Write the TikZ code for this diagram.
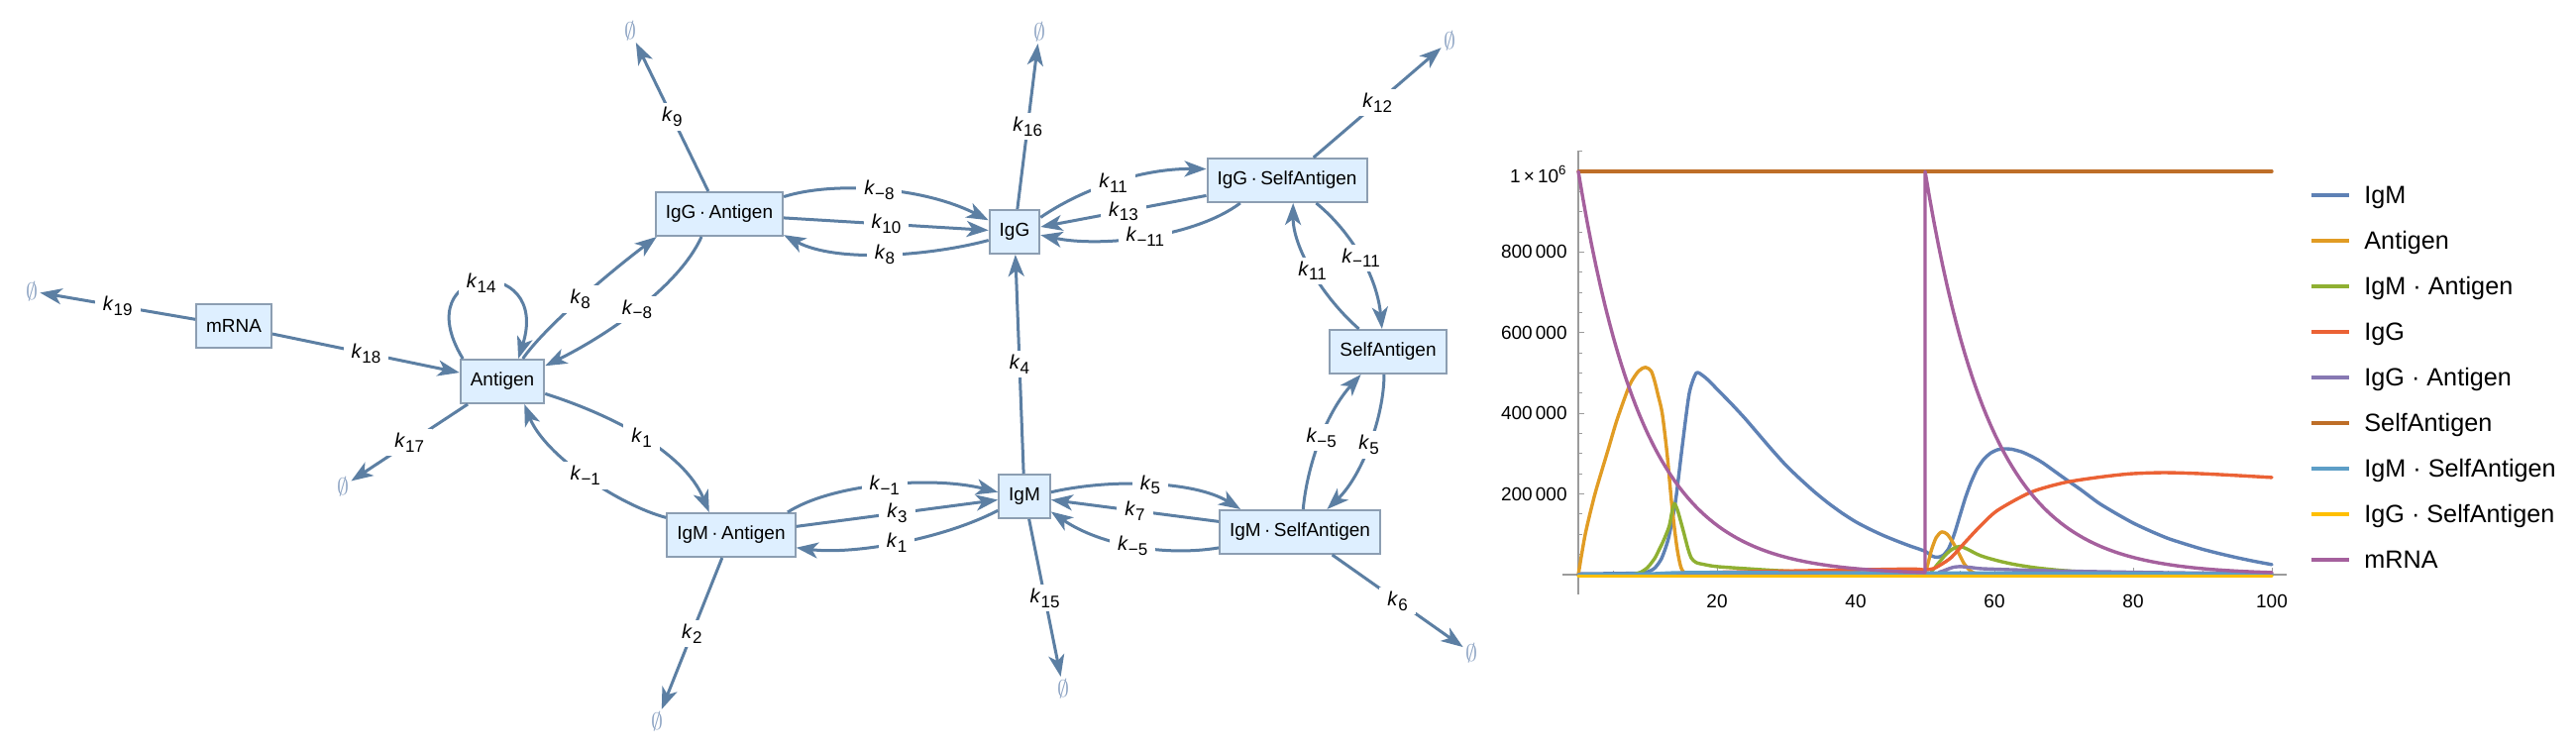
\documentclass[tikz,border=0pt]{standalone}
\usepackage{fontspec}
\setmainfont{Liberation Sans}
\usetikzlibrary{arrows.meta}
\definecolor{edgec}{RGB}{92,127,163}
\definecolor{nodefill}{RGB}{222,239,255}
\definecolor{nodedraw}{RGB}{140,158,178}
\definecolor{emptyc}{RGB}{140,163,195}
\definecolor{axisc}{RGB}{155,155,155}
\definecolor{cIgM}{RGB}{94,129,181}
\definecolor{cAnt}{RGB}{225,156,36}
\definecolor{cIgMA}{RGB}{143,176,50}
\definecolor{cIgG}{RGB}{235,98,53}
\definecolor{cIgGA}{RGB}{135,120,179}
\definecolor{cSelf}{RGB}{190,110,40}
\definecolor{cIgMS}{RGB}{93,158,199}
\definecolor{cIgGS}{RGB}{255,191,0}
\definecolor{cmRNA}{RGB}{165,96,157}
\newcommand{\kk}[1]{\textit{k}\raisebox{-0.45ex}{\fontsize{8.5}{10}\selectfont #1}}
\newcommand{\cdt}{\hspace{0.18em}·\hspace{0.18em}}
\begin{document}
\begin{tikzpicture}[x=0.5pt,y=-0.5pt,
  species/.style={draw=nodedraw, fill=nodefill, line width=1pt, inner xsep=5pt, inner ysep=0pt, minimum height=22pt, font=\fontsize{9.5}{11}\selectfont},
  sink/.style={text=emptyc, inner sep=1pt, font=\fontsize{11.5}{13}\selectfont},
  rx/.style={draw=edgec, line width=1.5pt, -{Stealth[length=11pt,width=8pt,inset=3pt]}},
  klab/.style={fill=white, inner xsep=4pt, inner ysep=2pt, font=\fontsize{10}{12}\selectfont, midway},
  ticklab/.style={inner sep=0pt, font=\fontsize{9.5}{11}\selectfont},
  leg/.style={anchor=base west, inner sep=0pt, font=\fontsize{12.6}{14}\selectfont},
  legline/.style={line width=1.8pt},
  curve/.style={line width=1.7pt, line join=round, line cap=round}
]
\useasboundingbox (0,0) rectangle (2600,758);
\fill[white] (0,0) rectangle (2600,758);

% species
\node[species] (mRNA) at (236,329) {mRNA};
\node[species] (Antigen) at (507,385) {Antigen};
\node[species] (IgGA) at (726,216) {IgG\cdt Antigen};
\node[species] (IgG) at (1024,234) {IgG};
\node[species] (IgGS) at (1299,182) {IgG\cdt SelfAntigen};
\node[species] (Self) at (1401,355) {SelfAntigen};
\node[species] (IgMA) at (738,540) {IgM\cdt Antigen};
\node[species] (IgM) at (1034,501) {IgM};
\node[species] (IgMS) at (1312,537) {IgM\cdt SelfAntigen};

% sinks
\node[sink] (e19) at (32,294) {$\emptyset$};
\node[sink] (e17) at (346,491) {$\emptyset$};
\node[sink] (e9) at (636,31) {$\emptyset$};
\node[sink] (e16) at (1049,32) {$\emptyset$};
\node[sink] (e12) at (1463,41) {$\emptyset$};
\node[sink] (e2) at (663,728) {$\emptyset$};
\node[sink] (e15) at (1073,695) {$\emptyset$};
\node[sink] (e6) at (1485,659) {$\emptyset$};

% reactions
\draw[rx] (mRNA) -- node[klab]{\kk{19}} (e19);
\draw[rx] (mRNA) -- node[klab]{\kk{18}} (Antigen);
\draw[rx] (Antigen.150) .. controls (408,265) and (557,255) .. node[klab]{\kk{14}} (Antigen.55);
\draw[rx] (Antigen.48) .. controls (550,330) and (615,275) .. node[klab]{\kk{8}} (IgGA.200);
\draw[rx] (IgGA.232) .. controls (685,290) and (610,340) .. node[klab]{\kk{−8}} (Antigen.20);
\draw[rx] (IgGA) -- node[klab]{\kk{9}} (e9);
\draw[rx] (IgGA.15) .. controls (840,183) and (930,188) .. node[klab]{\kk{−8}} (IgG.156);
\draw[rx] (IgGA) -- node[klab]{\kk{10}} (IgG);
\draw[rx] (IgG.198) .. controls (940,258) and (845,266) .. node[klab]{\kk{8}} (IgGA.342);
\draw[rx] (IgG) -- node[klab]{\kk{16}} (e16);
\draw[rx] (IgM) -- node[klab]{\kk{4}} (IgG);
\draw[rx] (IgG.29) .. controls (1090,192) and (1150,170) .. node[klab]{\kk{11}} (IgGS.172);
\draw[rx] (IgGS) -- node[klab]{\kk{13}} (IgG);
\draw[rx] (IgGS.206) .. controls (1205,240) and (1110,250) .. node[klab]{\kk{−11}} (IgG.353);
\draw[rx] (IgGS) -- node[klab]{\kk{12}} (e12);
\draw[rx] (Self.142) .. controls (1335,300) and (1305,250) .. node[klab]{\kk{11}} (IgGS.285);
\draw[rx] (IgGS.322) .. controls (1365,235) and (1390,280) .. node[klab]{\kk{−11}} (Self.105);
\draw[rx] (Antigen.344) .. controls (615,418) and (690,455) .. node[klab]{\kk{1}} (IgMA.134);
\draw[rx] (IgMA.165) .. controls (625,510) and (550,460) .. node[klab]{\kk{−1}} (Antigen.314);
\draw[rx] (Antigen) -- node[klab]{\kk{17}} (e17);
\draw[rx] (IgMA.22) .. controls (840,488) and (940,480) .. node[klab]{\kk{−1}} (IgM.171);
\draw[rx] (IgMA) -- node[klab]{\kk{3}} (IgM);
\draw[rx] (IgM.208) .. controls (950,545) and (860,560) .. node[klab]{\kk{1}} (IgMA.349);
\draw[rx] (IgMA) -- node[klab]{\kk{2}} (e2);
\draw[rx] (IgM) -- node[klab]{\kk{15}} (e15);
\draw[rx] (IgM.9) .. controls (1120,483) and (1205,485) .. node[klab]{\kk{5}} (IgMS.159);
\draw[rx] (IgMS) -- node[klab]{\kk{7}} (IgM);
\draw[rx] (IgMS.191) .. controls (1175,562) and (1110,550) .. node[klab]{\kk{−5}} (IgM.330);
\draw[rx] (IgMS.82) .. controls (1320,465) and (1340,415) .. node[klab]{\kk{−5}} (Self.220);
\draw[rx] (Self.260) .. controls (1397,420) and (1375,480) .. node[klab]{\kk{5}} (IgMS.40);
\draw[rx] (IgMS) -- node[klab]{\kk{6}} (e6);

% plot
\begin{scope}[shift={(1593,580)}, x=3.5pt, y=203.5pt]
  \draw[axisc, line width=0.6pt] (-2.3,0) -- (102.2,0);
  \draw[axisc, line width=0.6pt] (0,-0.049) -- (0,1.052);
  \foreach \i in {1,...,21} \draw[axisc, line width=0.5pt] (0,{\i*0.05}) -- ++(2pt,0pt);
  \foreach \i in {4,8,...,20} \draw[axisc, line width=0.5pt] (0,{\i*0.05}) -- ++(3pt,0pt);
  \foreach \i in {1,...,20} \draw[axisc, line width=0.5pt] ({\i*5},0) -- ++(0pt,2.2pt);
  \foreach \i in {20,40,...,100} \draw[axisc, line width=0.5pt] (\i,0) -- ++(0pt,3.5pt);
  \node[ticklab, anchor=east, xshift=-5.5pt] at (0,0.2) {200\,000};
  \node[ticklab, anchor=east, xshift=-5.5pt] at (0,0.4) {400\,000};
  \node[ticklab, anchor=east, xshift=-5.5pt] at (0,0.6) {600\,000};
  \node[ticklab, anchor=east, xshift=-5.5pt] at (0,0.8) {800\,000};
  \node[ticklab, anchor=east, xshift=-5.5pt, yshift=-1.5pt] at (0,1) {1\,×\,10\textsuperscript{6}};
  \foreach \t in {20,40,60,80,100} \node[ticklab, yshift=-13.5pt] at (\t,0) {\t};

  % IgM
  \draw[cIgM, curve] plot[smooth, tension=0.4] coordinates {(0,0.002) (6,0.003) (9,0.004) (10,0.007) (11,0.016) (12,0.04) (13,0.09) (14,0.18) (15,0.32) (16,0.45) (17,0.50) (18,0.493) (19,0.478) (20,0.46) (22,0.425) (24,0.388) (26,0.348) (28,0.308) (30,0.27) (32,0.237) (34,0.206) (36,0.178) (38,0.153) (40,0.131) (42,0.113) (44,0.097) (46,0.083) (48,0.07) (50,0.058) (51,0.046) (51.8,0.043) (52.6,0.048) (53.4,0.065) (54.2,0.1) (55,0.145) (55.8,0.19) (56.6,0.228) (57.5,0.262) (58.5,0.287) (59.5,0.302) (60.5,0.31) (61.5,0.312) (62.5,0.311) (64,0.304) (65.5,0.292) (67,0.277) (70,0.24) (72.5,0.21) (75,0.178) (77.5,0.152) (80,0.128) (82.5,0.108) (85,0.09) (87.5,0.076) (90,0.063) (92.5,0.052) (95,0.042) (97.5,0.033) (100,0.025)};
  % Antigen
  \draw[cAnt, curve] plot[smooth, tension=0.45] coordinates {(0,0) (1,0.1) (2.4,0.2) (4.3,0.31) (5.6,0.385) (7.4,0.47) (8.7,0.505) (9.7,0.514) (10.5,0.505) (11,0.48) (11.5,0.445) (12.1,0.40) (12.8,0.3) (13.5,0.17) (14.2,0.07) (14.8,0.018) (15.5,0.003) (17,0) (49.8,0)};
  \draw[cAnt, curve] plot[smooth, tension=0.45] coordinates {(49.8,0) (50.3,0.02) (50.9,0.06) (51.6,0.092) (52.4,0.106) (53.2,0.1) (54,0.08) (54.8,0.055) (55.6,0.028) (56.5,0.01) (57.5,0.002) (60,0) (100,0)};
  % IgM.Antigen
  \draw[cIgMA, curve] plot[smooth, tension=0.45] coordinates {(0,0) (7,0) (8,0.001) (9,0.006) (10,0.018) (11,0.04) (11.6,0.06) (12.3,0.085) (13.1,0.12) (13.5,0.155) (13.85,0.176) (14.3,0.16) (14.8,0.13) (15.3,0.098) (15.8,0.065) (16.3,0.041) (17,0.03) (18.2,0.025) (20,0.02) (25,0.014) (30,0.009) (40,0.004) (50,0.002) (51,0.01) (52,0.03) (53,0.05) (54,0.064) (55,0.07) (56,0.064) (58,0.047) (60.6,0.034) (63,0.025) (66,0.017) (70,0.01) (75,0.005) (80,0.002) (90,0.001) (100,0)};
  % IgG
  \draw[cIgG, curve] plot[smooth, tension=0.45] coordinates {(0,0) (12,0) (15,0.004) (20,0.006) (30,0.009) (40,0.012) (48,0.014) (50,0.012) (51.2,0.015) (52.3,0.025) (53.8,0.043) (55.7,0.079) (58.1,0.123) (60.5,0.16) (65.2,0.204) (70,0.228) (74.8,0.241) (79.5,0.25) (84.3,0.253) (89,0.251) (93.8,0.247) (100,0.241)};
  % IgG.Antigen
  \draw[cIgGA, curve] plot[smooth, tension=0.45] coordinates {(0,0) (50,0.001) (52,0.006) (53,0.012) (54,0.018) (55,0.02) (56.5,0.018) (58,0.015) (61,0.013) (65,0.011) (70,0.009) (80,0.006) (90,0.004) (100,0.003)};
  % SelfAntigen
  \draw[cSelf, curve] (0,1) -- (100,1);
  % IgM.SelfAntigen
  \draw[cIgMS, curve] plot[smooth, tension=0.45] coordinates {(0,0) (10,0.002) (15,0.005) (30,0.005) (50,0.004) (60,0.004) (80,0.003) (100,0.002)};
  % IgG.SelfAntigen
  \draw[cIgGS, curve] (0,-0.003) -- (100,-0.003);
  % mRNA
  \draw[cmRNA, curve] plot[domain=0:50, samples=80] (\x,{exp(-0.105*\x)}) -- (50,1) -- plot[domain=50:100, samples=80] (\x,{exp(-0.105*(\x-50))});
\end{scope}

% legend
\draw[cIgM, legline] (2333,197) -- (2371,197);   \node[leg] at (2386,206) {IgM};
\draw[cAnt, legline] (2333,243) -- (2371,243);   \node[leg] at (2386,252) {Antigen};
\draw[cIgMA, legline] (2333,289) -- (2371,289);  \node[leg] at (2386,298) {IgM · Antigen};
\draw[cIgG, legline] (2333,335) -- (2371,335);   \node[leg] at (2386,344) {IgG};
\draw[cIgGA, legline] (2333,381) -- (2371,381);  \node[leg] at (2386,390) {IgG · Antigen};
\draw[cSelf, legline] (2333,427) -- (2371,427);  \node[leg] at (2386,436) {SelfAntigen};
\draw[cIgMS, legline] (2333,473) -- (2371,473);  \node[leg] at (2386,482) {IgM · SelfAntigen};
\draw[cIgGS, legline] (2333,519) -- (2371,519);  \node[leg] at (2386,528) {IgG · SelfAntigen};
\draw[cmRNA, legline] (2333,565) -- (2371,565);  \node[leg] at (2386,574) {mRNA};
\end{tikzpicture}
\end{document}
